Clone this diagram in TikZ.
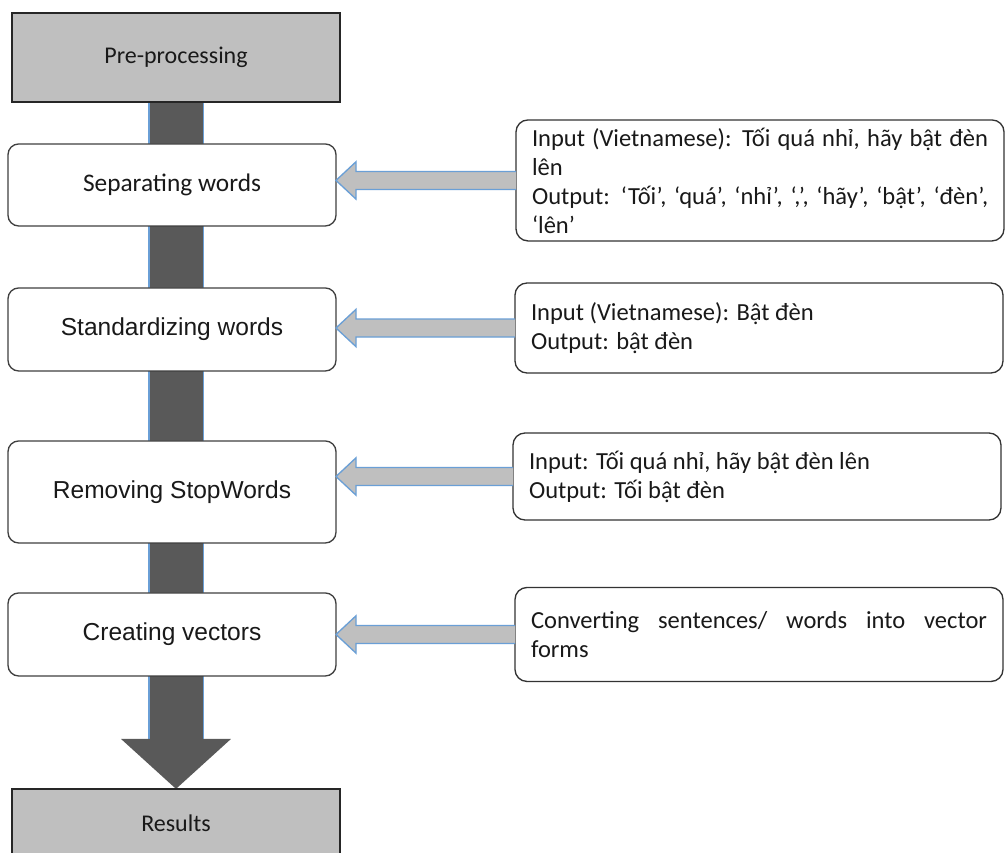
\documentclass[tikz,border=0pt]{standalone}
\usepackage{fontspec}
\setmainfont{Carlito}
\newfontfamily\arialfont{Liberation Sans}
\usepackage{tikz}
\usetikzlibrary{positioning, arrows.meta, calc, backgrounds}
\definecolor{boxgray}{HTML}{BFBFBF}
\definecolor{bardark}{HTML}{595959}
\definecolor{edgeblue}{HTML}{6A9FD6}
\hyphenpenalty=10000
\exhyphenpenalty=10000

\begin{document}
\begin{tikzpicture}[x=1pt, y=1pt, node distance=30pt,
  endbox/.style={draw=black!85, fill=boxgray, line width=1pt, outer sep=0pt, minimum width=246pt, text=black!90, font=\fontsize{18}{21.75}\selectfont},
  stepbox/.style={draw=black!75, fill=white, line width=1pt, outer sep=0pt, rounded corners=8pt, minimum width=246pt, text=black!90, font=\arialfont\fontsize{18.4}{22}\selectfont},
  notebox/.style={draw=black!80, fill=white, line width=1pt, outer sep=0pt, rounded corners=9pt, text width=342pt, inner xsep=12pt, align=justify, text=black!90, font=\fontsize{18.4}{21.75}\selectfont},
  sidearrow/.style={draw=edgeblue, fill=boxgray, line width=1pt}]
  \useasboundingbox (0,0) rectangle (753.75,-639);

  \node[endbox, minimum height=66.75pt]  (prep)  at (132,-43.1) {Pre-processing};
  \node[stepbox, minimum height=61.5pt, below = 31.5pt of prep, xshift=-3pt, font=\fontsize{19}{22}\selectfont]  (sep)  {Separating words};
  \node[stepbox, minimum height=62.25pt, below = 46.5pt of sep]  (std)  {Standardizing words};
  \node[stepbox, minimum height=76.5pt, below = 52.5pt of std]  (rem)  {Removing StopWords};
  \node[stepbox, minimum height=62.25pt, below = 37.5pt of rem]  (vec)  {Creating vectors};
  \node[endbox, minimum height=51pt, below = 84.75pt of vec, xshift=3pt]  (res)  {Results};

  \node[notebox, minimum height=90.75pt, right = 135pt of sep, yshift=3.4pt]  (in1)
    {Input (Vietnamese): Tối quá nhỉ, hãy bật đèn\linebreak lên\\Output: ‘Tối’, ‘quá’, ‘nhỉ’, ‘,’, ‘hãy’, ‘bật’, ‘đèn’,\linebreak ‘lên’};
  \node[notebox, minimum height=67.5pt, right = 134.25pt of std, yshift=1.1pt]  (in2)
    {Input (Vietnamese): Bật đèn\\Output: bật đèn};
  \node[notebox, minimum height=65.25pt, right = 132.75pt of rem, yshift=11.6pt]  (in3)
    {Input: Tối quá nhỉ, hãy bật đèn lên\\Output: Tối bật đèn};
  \node[notebox, minimum height=70.5pt, right = 134.25pt of vec]  (in4)
    {Converting sentences/ words into vector\linebreak forms};

  \foreach \a/\b in {in1/sep, in2/std, in3/rem, in4/vec}
    \draw[sidearrow] let \p1 = (\a.west), \p2 = (\b.east) in
      (\x1, \y1+6.75) -- (\x2+15, \y1+6.75) -- (\x2+15, \y1+14) -- (\x2, \y1)
      -- (\x2+15, \y1-14) -- (\x2+15, \y1-6.75) -- (\x1, \y1-6.75);

  \begin{scope}[on background layer]
    \fill[white] (0,0) rectangle (753.75,-639);
    \draw[edgeblue, line width=41.5pt] (prep.south) -- ($(res.north)+(0,37.5)$);
    \draw[bardark, line width=39.75pt, -{Triangle[width=80.25pt, length=37.5pt]}] (prep.south) -- (res.north);
  \end{scope}
\end{tikzpicture}
\end{document}
